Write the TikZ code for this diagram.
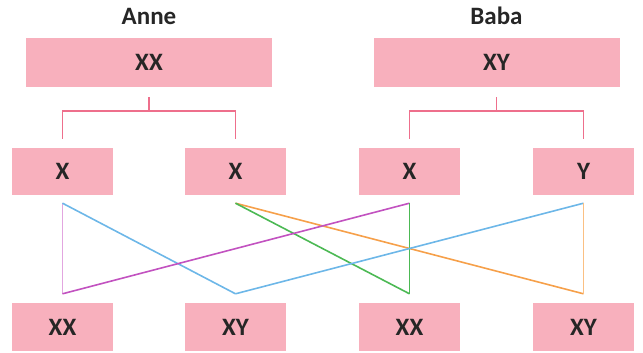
\documentclass[tikz,border=0pt]{standalone}
\usepackage{fontspec}
\setmainfont{Carlito}
\usepackage{xcolor}
\usetikzlibrary{calc,positioning}

\definecolor{boxpink}{HTML}{F8B0BD}
\definecolor{linkpink}{HTML}{EE6F8C}
\definecolor{txtgrey}{HTML}{262626}
\definecolor{cmag}{HTML}{C252C0}
\definecolor{clilac}{HTML}{E2A6E0}
\definecolor{cblue}{HTML}{6DB7E8}
\definecolor{cgreen}{HTML}{4CB954}
\definecolor{corange}{HTML}{F6A04A}
\definecolor{clorange}{HTML}{FBC083}

\begin{document}
\begin{tikzpicture}[
        x=1pt, y=-1pt,
        font=\fontsize{25}{30}\selectfont\bfseries,
        box/.style={fill=boxpink, text=txtgrey, inner sep=0pt, minimum width=101pt, minimum height=47pt},
        wide/.style={box, minimum width=246pt, minimum height=49pt},
        link/.style={draw=linkpink, line width=1.6pt},
        cross/.style={line width=1.6pt},
        lab/.style={text=txtgrey, inner sep=0pt}
    ]
        \useasboundingbox (0,0) rectangle (643,353);

        % Parents
        \node[wide] (anne) at (149,62.5) {XX};
        \node[wide] (baba) at (496.5,62.5) {XY};
        \node[lab, above=13pt of anne.north, anchor=base] (lanne) {Anne};
        \node[lab, above=13pt of baba.north, anchor=base] (lbaba) {Baba};

        % Gametes
        \node[box] (g1) at (62.5,171.5) {X};
        \node[box] (g2) at (235.5,171.5) {X};
        \node[box] (g3) at (409.5,171.5) {X};
        \node[box] (g4) at (583.5,171.5) {Y};

        % Children
        \node[box, minimum height=48pt] (c1) at (62.5,327) {XX};
        \node[box, minimum height=48pt] (c2) at (235.5,327) {XY};
        \node[box, minimum height=48pt] (c3) at (409.5,327) {XX};
        \node[box, minimum height=48pt] (c4) at (583.5,327) {XY};

        % Brackets
        \draw[link] ([yshift=-10pt]anne.south) -- ++(0,14) coordinate (ja);
        \draw[link] ([yshift=9pt]g1.north) |- (ja) -| ([yshift=9pt]g2.north);
        \draw[link] ([yshift=-10pt]baba.south) -- ++(0,14) coordinate (jb);
        \draw[link] ([yshift=9pt]g3.north) |- (jb) -| ([yshift=9pt]g4.north);

        % Line ends
        \foreach \i in {1,2,3,4} {
            \coordinate (t\i) at ([yshift=-8pt]g\i.south);
            \coordinate (b\i) at ([yshift=9pt]c\i.north);
        }

        % Crossing lines
        \draw[cross, clilac] (t1) -- (b1);
        \draw[cross, cblue] (t1) -- (b2);
        \draw[cross, corange] (t2) -- (b4);
        \draw[cross, cgreen] (t2) -- (b3);
        \draw[cross, cmag] (b1) -- (t3);
        \draw[cross, cgreen] (t3) -- (b3);
        \draw[cross, cblue] (b2) -- (t4);
        \draw[cross, clorange] (t4) -- (b4);
    \end{tikzpicture}
\end{document}
